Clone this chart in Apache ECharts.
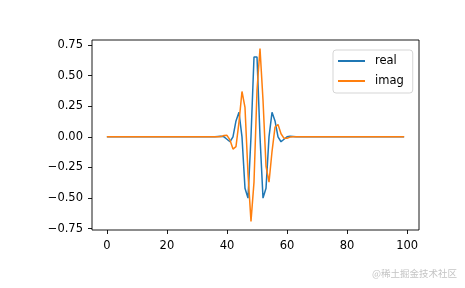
<!DOCTYPE html>
<html>
<head>
<meta charset="utf-8">
<script src="https://cdn.jsdelivr.net/npm/echarts@6/dist/echarts.min.js"></script>
<style>
html,body{margin:0;padding:0;background:#fff;}
#chart{width:465px;height:288px;}
</style>
</head>
<body>
<div id="chart"></div>
<script>
// sample index 0..99
var xIndex = [
 0,1,2,3,4,5,6,7,8,9,10,11,12,13,14,15,16,17,18,19,
 20,21,22,23,24,25,26,27,28,29,30,31,32,33,34,35,36,37,38,39,
 40,41,42,43,44,45,46,47,48,49,50,51,52,53,54,55,56,57,58,59,
 60,61,62,63,64,65,66,67,68,69,70,71,72,73,74,75,76,77,78,79,
 80,81,82,83,84,85,86,87,88,89,90,91,92,93,94,95,96,97,98,99
];
var realValues = [
 0,0,0,0,0,0,0,0,0,0, 0,0,0,0,0,0,0,0,0,0,
 0,0,0,0,0,0,0,0,0,0, 0,0,0,0,0,0,0,0.002,0.004,0,
 -0.02,-0.04,0,0.13,0.20,0,-0.42,-0.50,0,0.652,
 0.652,0,-0.50,-0.42,0,0.20,0.13,0,-0.04,-0.02,
 0,0.004,0.002,0,0,0,0,0,0,0, 0,0,0,0,0,0,0,0,0,0,
 0,0,0,0,0,0,0,0,0,0, 0,0,0,0,0,0,0,0,0,0
];
var imagValues = [
 0,0,0,0,0,0,0,0,0,0, 0,0,0,0,0,0,0,0,0,0,
 0,0,0,0,0,0,0,0,0,0, 0,0,0,0,0,0,0,0,0.002,0.011,
 0.012,-0.025,-0.10,-0.08,0.12,0.37,0.24,-0.30,-0.69,-0.37,
 0.38,0.72,0.30,-0.24,-0.37,-0.12,0.08,0.10,0.025,-0.012,
 -0.011,-0.002,0,0,0,0,0,0,0,0, 0,0,0,0,0,0,0,0,0,0,
 0,0,0,0,0,0,0,0,0,0, 0,0,0,0,0,0,0,0,0,0
];
var seriesNames = ['real', 'imag'];
var xTicks = [0, 20, 40, 60, 80, 100];
var yTicks = [-0.75, -0.5, -0.25, 0, 0.25, 0.5, 0.75];
var watermark = '@稀土掘金技术社区';

function pairs(vals) {
  return xIndex.map(function (x, i) { return [x, vals[i]]; });
}
var FONT = 'DejaVu Sans';
var chart = echarts.init(document.getElementById('chart'), null, {renderer: 'canvas'});
chart.setOption({
  animation: false,
  backgroundColor: '#ffffff',
  grid: {left: 92, right: 46, top: 40, bottom: 58, show: true,
         borderColor: '#000', borderWidth: 0.9, backgroundColor: 'transparent'},
  xAxis: {
    type: 'value', min: -4.95, max: 103.95,
    axisLine: {show: false, onZero: false},
    splitLine: {show: false},
    axisTick: {show: true, length: 4, lineStyle: {color: '#000', width: 0.9}, customValues: xTicks},
    axisLabel: {color: '#000', fontFamily: FONT, fontSize: 11.5, margin: 10, customValues: xTicks,
                formatter: function (v) { return String(v); }}
  },
  yAxis: {
    type: 'value', min: -0.7605, max: 0.7905,
    axisLine: {show: false, onZero: false},
    splitLine: {show: false},
    axisTick: {show: true, length: 4, lineStyle: {color: '#000', width: 0.9}, customValues: yTicks},
    axisLabel: {color: '#000', fontFamily: FONT, fontSize: 11.5, margin: 9, customValues: yTicks,
                formatter: function (v) { return v.toFixed(2).replace('-', '\u2212'); }}
  },
  legend: {
    show: true, orient: 'vertical', left: 333, top: 50,
    data: seriesNames,
    icon: 'rect', itemWidth: 27, itemHeight: 2, itemGap: 8,
    padding: [5, 9, 6, 5],
    backgroundColor: 'rgba(255,255,255,0.8)',
    borderColor: '#d0d0d0', borderWidth: 0.9, borderRadius: 3,
    textStyle: {color: '#000', fontFamily: FONT, fontSize: 11.5, lineHeight: 12, padding: [0, 0, 0, 5]},
    itemStyle: {borderWidth: 0}
  },
  graphic: [{
    type: 'text', left: 372, top: 269,
    style: {text: watermark, fill: '#c4c4c4', font: '9.5px "Noto Sans CJK SC"'}
  }],
  series: [
    {name: seriesNames[0], type: 'line', data: pairs(realValues), showSymbol: false,
     color: '#1f77b4', lineStyle: {width: 1.5, color: '#1f77b4'}, z: 2},
    {name: seriesNames[1], type: 'line', data: pairs(imagValues), showSymbol: false,
     color: '#ff7f0e', lineStyle: {width: 1.5, color: '#ff7f0e'}, z: 3}
  ]
});
</script>
</body>
</html>
